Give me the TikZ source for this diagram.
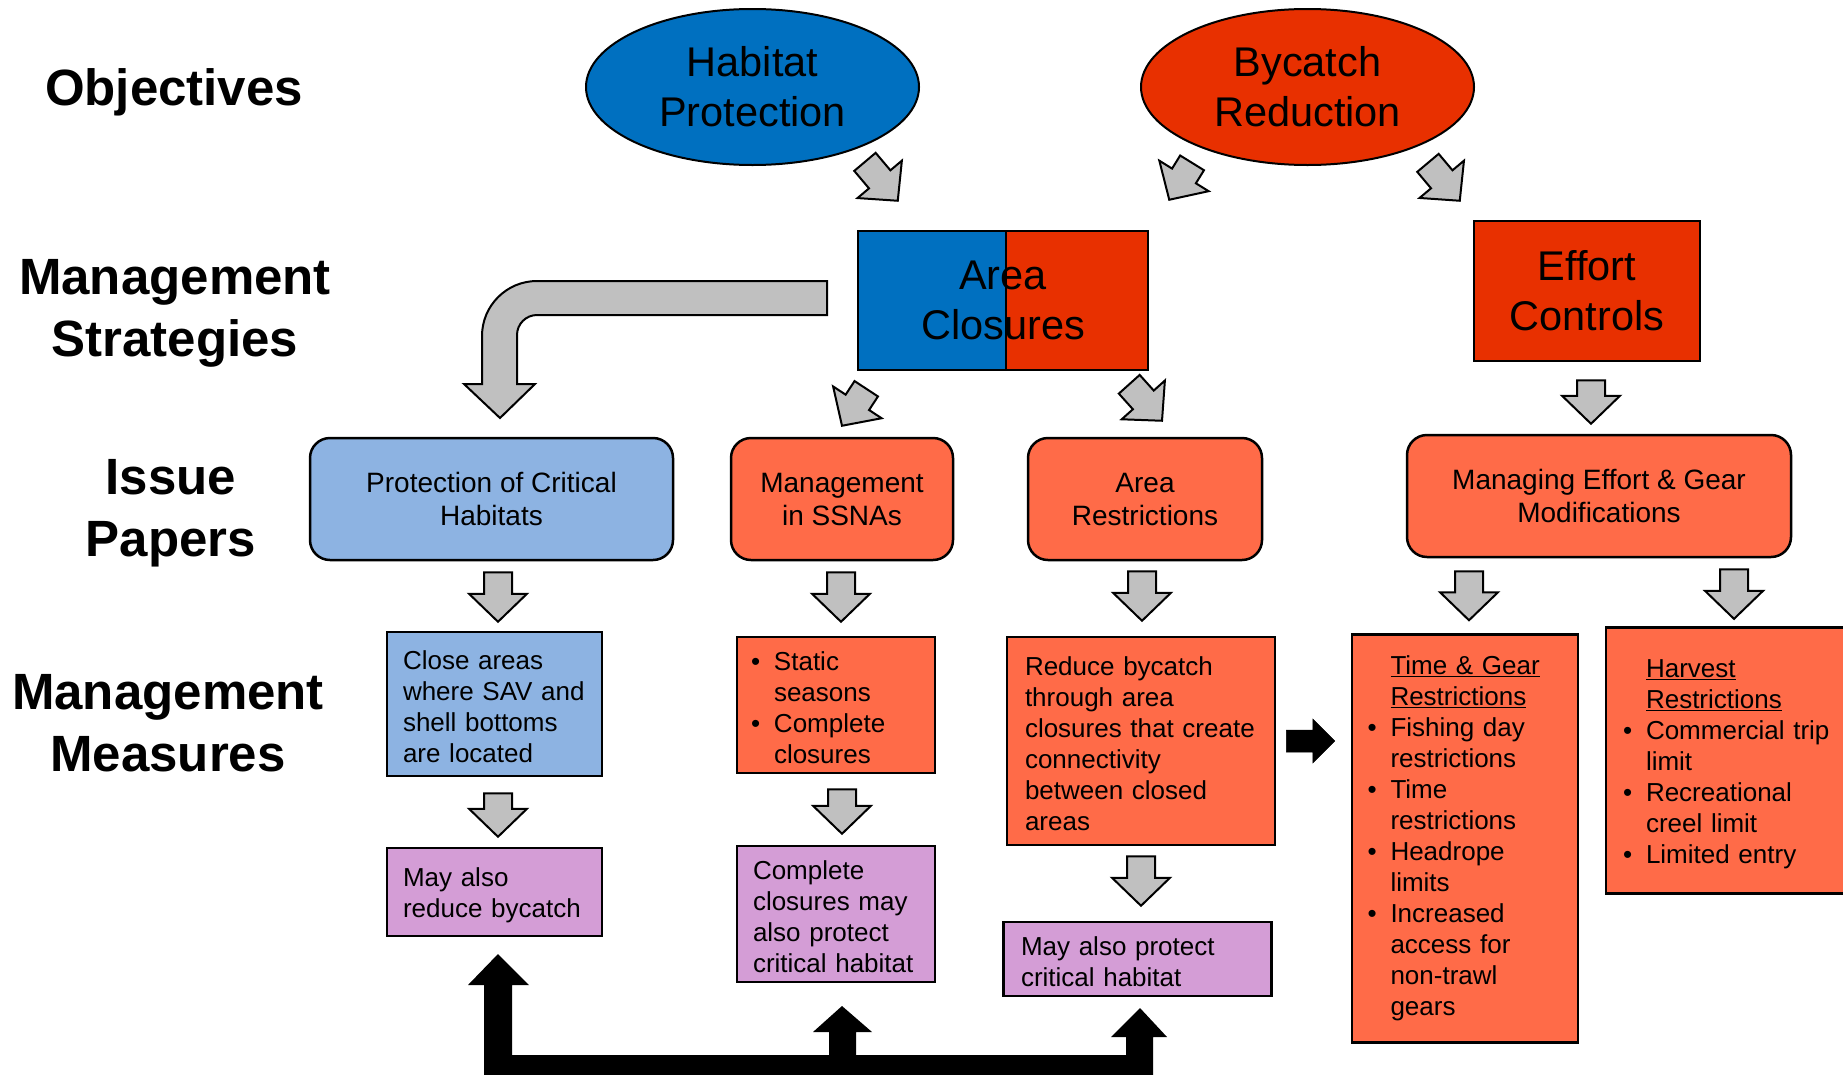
\documentclass[tikz,border=0pt]{standalone}
\usepackage{fontspec}
\setmainfont{Liberation Sans}
\usetikzlibrary{shapes.geometric,calc}
\definecolor{hpblue}{HTML}{0070C0}
\definecolor{bcred}{HTML}{E83000}
\definecolor{ipor}{HTML}{FF6B48}
\definecolor{lblue}{HTML}{8DB3E2}
\definecolor{lpurp}{HTML}{D49DD6}
\definecolor{agray}{HTML}{C0C0C0}
\newcommand\bul{\makebox[23pt][l]{\textbullet}}
\newcommand\ind{\hspace*{23pt}}
\newcommand\fst{\rule{0pt}{25pt}}
\newcommand\fatarrow[6][garrow]{%
  \coordinate (fa-h) at ($(#3)!#6!(#2)$);
  \draw[#1] ($(#2)!#4!90:(#3)$) -- ($(fa-h)!#4!-90:(#2)$) -- ($(fa-h)!#5!-90:(#2)$) -- (#3) -- ($(fa-h)!#5!90:(#2)$) -- ($(fa-h)!#4!90:(#2)$) -- ($(#2)!#4!-90:(#3)$) -- cycle;}
\begin{document}
\begin{tikzpicture}[x=1pt,y=-1pt,
  lbl/.style={font=\fontsize{51}{62}\selectfont\bfseries, align=center},
  big/.style={font=\fontsize{41.5}{50}\selectfont, align=center},
  obj/.style={big, ellipse, draw, line width=2pt, minimum width=333pt, minimum height=156pt, inner sep=0pt},
  strat/.style={big, draw, line width=2.5pt, inner sep=0pt},
  issue/.style={draw, line width=2.5pt, rounded corners=20pt, fill=ipor, font=\fontsize{28}{33}\selectfont, align=center, minimum height=122pt, inner sep=0pt},
  meas/.style={draw, line width=2.5pt, inner ysep=0pt, align=left, font=\fontsize{26}{31}\selectfont},
  garrow/.style={fill=agray, draw=black, line width=2pt, line join=miter},
  barrow/.style={fill=black, draw=black, line width=0.5pt, line join=miter}]
\useasboundingbox (0,0) rectangle (1843,1074);

% row labels
\node[lbl] (l1) at (174,92) {Objectives};
\node[lbl] (l2) at (175,313) {Management\\Strategies};
\node[lbl] (l3) at (171,513) {Issue\\Papers};
\node[lbl] (l4) at (168,723) {Management\\Measures};

% objectives
\node[obj, fill=hpblue] (hab) at (752.5,87) {Habitat\\Protection};
\node[obj, fill=bcred] (byc) at (1307.5,87) {Bycatch\\Reduction};

% strategies
\node[strat, minimum width=290pt, minimum height=139pt, path picture={
  \fill[hpblue] (path picture bounding box.north west) rectangle ([xshift=3pt]path picture bounding box.south);
  \fill[bcred] ([xshift=3pt]path picture bounding box.north) rectangle (path picture bounding box.south east);
  \draw[line width=2pt] ([xshift=3pt]path picture bounding box.north) -- ([xshift=3pt]path picture bounding box.south);
}] (area) at (1003,300.5) {Area\\Closures};
\node[strat, fill=bcred, minimum width=226pt, minimum height=140pt] (eff) at (1587,291) {Effort\\Controls};

% issue papers
\node[issue, fill=lblue, minimum width=363pt] (prot) at (491.5,499) {Protection of Critical\\Habitats};
\node[issue, minimum width=222pt] (ssna) at (842,499) {Management\\in SSNAs};
\node[issue, minimum width=234pt] (arear) at (1145,499) {Area\\Restrictions};
\node[issue, minimum width=384pt] (mng) at (1599,496) {Managing Effort \& Gear\\Modifications};

% measures
\node[meas, fill=lblue, text width=183pt, inner xsep=16pt, minimum height=144pt] (close) at (494.5,704) {\fst Close areas\\where~SAV~and\\shell bottoms\\are located};
\node[meas, fill=ipor, text width=170pt, inner xsep=14pt, minimum height=136pt] (stat) at (836,705) {\fst\bul Static\\\ind seasons\\\bul Complete\\\ind closures};
\node[meas, fill=ipor, text width=232pt, inner xsep=18pt, minimum height=208pt] (red) at (1141,741) {\fst Reduce bycatch\\through area\\closures~that~create\\connectivity\\between closed\\areas};
\node[meas, fill=ipor, text width=195pt, inner xsep=15.5pt, minimum height=408pt] (tg) at (1465,838.5) {\ind\underline{Time \& Gear}\\\ind\underline{Restrictions}\\\bul Fishing day\\\ind restrictions\\\bul Time\\\ind restrictions\\\bul Headrope\\\ind limits\\\bul Increased\\\ind access for\\\ind non-trawl\\\ind gears\\[4pt]};
\node[meas, fill=ipor, text width=230pt, inner xsep=17pt, minimum height=266pt] (harv) at (1738,760.6) {\fst\ind\underline{Harvest}\\\ind\underline{Restrictions}\\\bul Commercial~trip\\\ind limit\\\bul Recreational\\\ind creel limit\\\bul Limited entry};
\node[meas, fill=lpurp, text width=183pt, inner xsep=16pt, minimum height=88pt] (may1) at (494.5,892) {\fst May also\\reduce~bycatch};
\node[meas, fill=lpurp, text width=166pt, inner xsep=16pt, minimum height=136pt] (comp) at (836,914) {\fst Complete\\closures may\\also protect\\critical~habitat};
\node[meas, fill=lpurp, text width=233pt, inner xsep=17.5pt, minimum height=74pt] (may2) at (1137.5,959) {\fst May also protect\\critical habitat};

% arrow end points
\coordinate (s1) at ($(prot.south)+(6.5,11)$);   \coordinate (e1) at ($(close.north)+(3.5,-9)$);
\coordinate (s2) at ($(ssna.south)+(-1,11)$);    \coordinate (e2) at ($(stat.north)+(5,-14)$);
\coordinate (s3) at ($(arear.south)+(-3,10)$);   \coordinate (e3) at ($(red.north)+(1,-15)$);
\coordinate (s4) at ($(mng.south -| tg.north)+(4,13)$); \coordinate (e4) at ($(tg.north)+(4,-13)$);
\coordinate (s5) at ($(mng.south -| harv.north)+(-4,11)$); \coordinate (e5) at ($(harv.north)+(-4,-7.5)$);
\coordinate (s6) at ($(eff.south)+(4,18)$);      \coordinate (e6) at ($(mng.north -| eff.south)+(4,-10)$);
\coordinate (s7) at ($(close.south)+(3.5,16)$);  \coordinate (e7) at ($(may1.north)+(3.5,-10)$);
\coordinate (s8) at ($(stat.south)+(6,15)$);     \coordinate (e8) at ($(comp.north)+(6,-11)$);
\coordinate (s9) at ($(red.south)+(0,10)$);      \coordinate (e9) at ($(may2.north)+(3.5,-15)$);
\coordinate (s10) at ($(hab.south east)+(-6,19)$);  \coordinate (e10) at ($(area.north west)+(41,-29)$);
\coordinate (s11) at ($(byc.south west)+(3,20)$);   \coordinate (e11) at ($(area.north east)+(20,-30)$);
\coordinate (s12) at ($(byc.south east)+(2,20)$);   \coordinate (e12) at ($(eff.north west)+(-13,-19)$);
\coordinate (s13) at ($(area.south west)+(9.5,17.5)$); \coordinate (e13) at ($(ssna.north)+(0,-11)$);
\coordinate (s14) at ($(area.south east)+(-20,13)$);   \coordinate (e14) at ($(arear.north)+(17,-16)$);
\coordinate (s15) at ($(red.east)+(10,0)$);  \coordinate (e15) at ($(red.east -| tg.west)+(-16,0)$);

\foreach \i in {1,...,14}{\fatarrow{s\i}{e\i}{14pt}{29pt}{28pt}}
\fatarrow[barrow]{s15}{e15}{11pt}{22pt}{22pt}

% curved arrow from Area Closures to Protection of Critical Habitats
\draw[garrow] (827,281) -- (537,281) .. controls (506.6,281) and (482,305.6) .. (482,336)
  -- (482,384) -- (464,384) -- (500,418) -- (535,384) -- (517,384) -- (517,335)
  .. controls (517,324) and (526,315) .. (537,315) -- (827,315) -- cycle;

% black arrows at the bottom
\fill[black] (484,1085) -- (484,985) -- (468,985) -- (498,954) -- (529,985) -- (512,985) -- (512,1055)
  -- (829,1055) -- (829,1032) -- (813,1032) -- (842,1006) -- (872,1032) -- (856,1032) -- (856,1055)
  -- (1126,1055) -- (1126,1037) -- (1111,1037) -- (1140,1008) -- (1167,1037) -- (1153,1037) -- (1153,1085) -- cycle;
\end{tikzpicture}
\end{document}
